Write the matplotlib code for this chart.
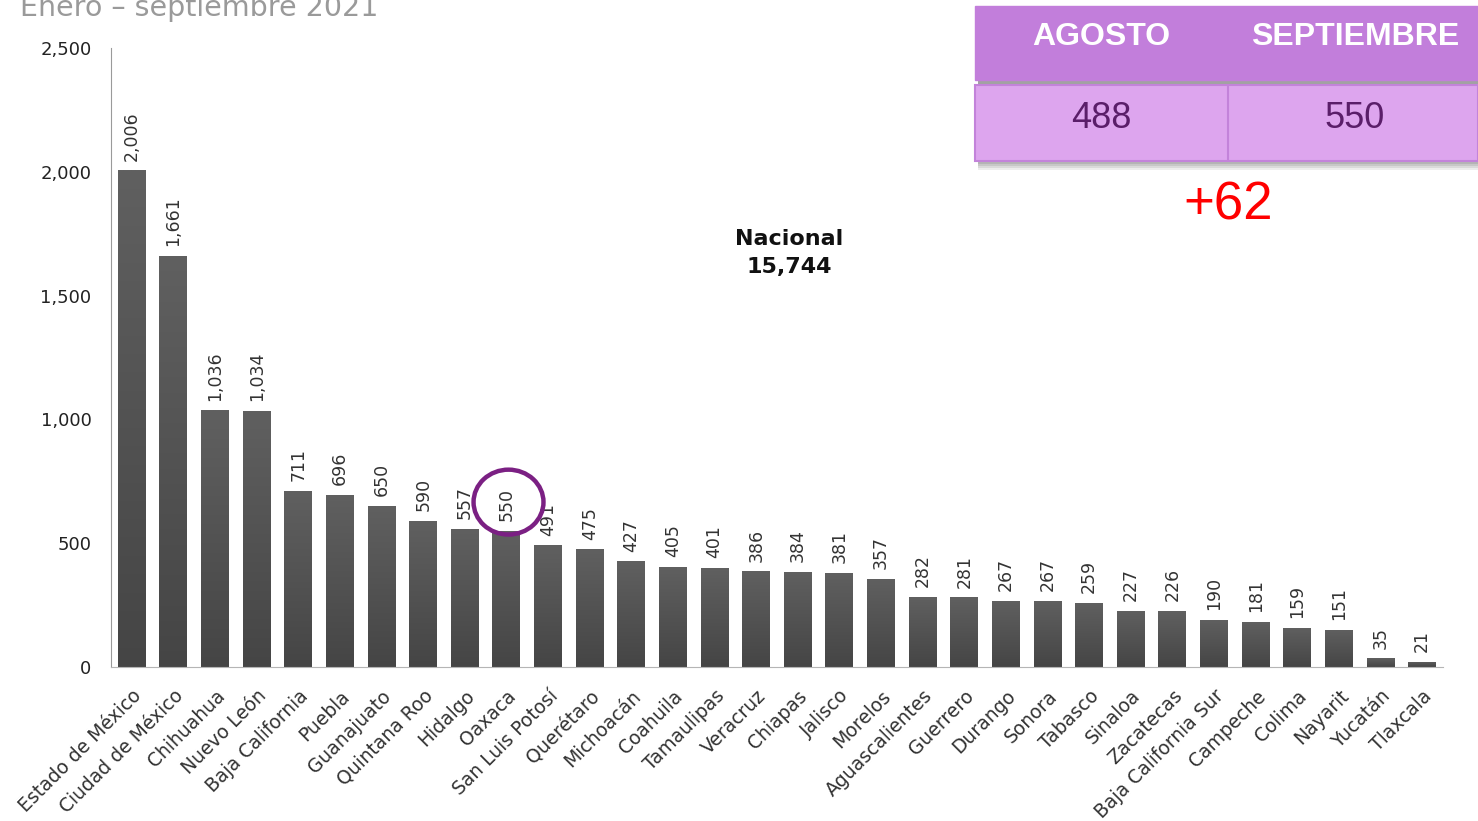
import matplotlib
matplotlib.use("Agg")
import matplotlib.pyplot as plt
import numpy as np
from matplotlib.patches import Rectangle, Ellipse
from matplotlib.colors import LinearSegmentedColormap
from matplotlib.ticker import FuncFormatter

states = ["Estado de México", "Ciudad de México", "Chihuahua", "Nuevo León", "Baja California",
          "Puebla", "Guanajuato", "Quintana Roo", "Hidalgo", "Oaxaca", "San Luis Potosí",
          "Querétaro", "Michoacán", "Coahuila", "Tamaulipas", "Veracruz", "Chiapas", "Jalisco",
          "Morelos", "Aguascalientes", "Guerrero", "Durango", "Sonora", "Tabasco", "Sinaloa",
          "Zacatecas", "Baja California Sur", "Campeche", "Colima", "Nayarit", "Yucatán", "Tlaxcala"]
values = [2006, 1661, 1036, 1034, 711, 696, 650, 590, 557, 550, 491, 475, 427, 405, 401, 386,
          384, 381, 357, 282, 281, 267, 267, 259, 227, 226, 190, 181, 159, 151, 35, 21]
yticks = [0, 500, 1000, 1500, 2000, 2500]
title = "Enero – septiembre 2021"
national_label = "Nacional"
national_total = "15,744"
table_headers = ["AGOSTO", "SEPTIEMBRE"]
table_values = ["488", "550"]
change_label = "+62"
highlight_state = "Oaxaca"

W, H = 1478, 821
fig = plt.figure(figsize=(W / 100, H / 100), dpi=100)
ax = fig.add_axes([111 / W, 1 - 667 / H, (1443 - 111) / W, (667 - 48) / H])

x = np.arange(len(states))
bw = 0.67
bars = ax.bar(x, values, width=bw, color="#565656", zorder=2)
cmap = LinearSegmentedColormap.from_list("g", ["#454545", "#606060"])
grad = np.linspace(0, 1, 256).reshape(-1, 1)
for b in bars:
    bx, by = b.get_x(), b.get_height()
    im = ax.imshow(grad, cmap=cmap, origin="lower", aspect="auto",
                   extent=(bx, bx + b.get_width(), 0, by), zorder=2.5)
    im.set_clip_path(b)
for i, v in enumerate(values):
    ax.annotate(f"{v:,}", (i, v), xytext=(0, 7), textcoords="offset points",
                rotation=90, ha="center", va="bottom", fontsize=12.5, color="#333333")

ax.set_xlim(-0.5, len(states) - 0.5)
ax.set_ylim(0, 2500)
ax.set_aspect("auto")
ax.set_yticks(yticks)
ax.yaxis.set_major_formatter(FuncFormatter(lambda v, p: f"{int(v):,}"))
ax.tick_params(axis="y", length=0, pad=14, labelsize=13, labelcolor="#222222")
ax.set_xticks(list(x))
ax.set_xticklabels(states, rotation=45, ha="right", rotation_mode="anchor",
                   fontsize=13.5, color="#333333")
ax.tick_params(axis="x", length=0, pad=14)
for s in ["top", "right"]:
    ax.spines[s].set_visible(False)
ax.spines["left"].set_color("#9a9a9a")
ax.spines["bottom"].set_color("#b5b5b5")

# highlight circle around Oaxaca label
hi = states.index(highlight_state)
ax.add_patch(Ellipse((hi + 0.05, values[hi] + 116), width=1.68, height=262, fill=False,
                     edgecolor="#7B2083", linewidth=3.2, zorder=5, clip_on=False))

# national total
ax.text(15.8, 1672, national_label + "\n" + national_total, ha="center", va="center",
        fontsize=16, fontweight="bold", color="#111111", linespacing=1.45)

# title (partially cut off at top, as in the source)
fig.text(20 / W, 1 - 16 / H, title, fontsize=20.5, color="#9a9a9a", ha="left", va="baseline")

# table
x0 = 975 / W
# soft shadow
for k, a in enumerate([0.10, 0.12, 0.14, 0.16, 0.18]):
    fig.add_artist(Rectangle((x0 + 0.002, 1 - (170 - k * 2) / H), 1 - x0, 90 / H,
                             facecolor="#555555", alpha=a, edgecolor="none", zorder=1))
fig.add_artist(Rectangle((x0, 1 - 80 / H), 1 - x0, 74 / H, facecolor="#C27EDB",
                         edgecolor="#C27EDB", zorder=2))
fig.add_artist(Rectangle((x0, 1 - 161 / H), 1 - x0, 76 / H, facecolor="#DDA5EE",
                         edgecolor="#C383DA", linewidth=1.5, zorder=2))
fig.add_artist(plt.Line2D([1228 / W, 1228 / W], [1 - 160 / H, 1 - 86 / H], color="#C383DA",
                          linewidth=1.5, zorder=3))
for cx, hdr, val in zip([1101 / W, 1355 / W], table_headers, table_values):
    fig.text(cx, 1 - 37 / H, hdr, ha="center", va="center", fontsize=23, fontweight="bold",
             color="white", family="Liberation Sans", zorder=4)
    fig.text(cx, 1 - 118 / H, val, ha="center", va="center", fontsize=26,
             color="#5A1E69", family="Liberation Sans", zorder=4)
fig.text(1228 / W, 1 - 205 / H, change_label, ha="center", va="center", fontsize=38,
         color="#FF0000", family="Liberation Sans", zorder=4)

fig.savefig("out.png", dpi=100)
